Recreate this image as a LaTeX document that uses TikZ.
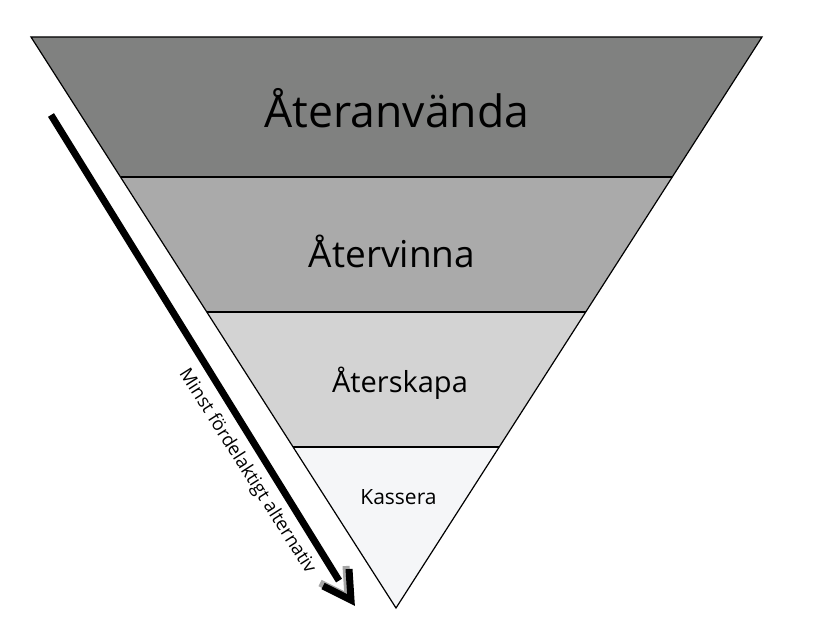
\documentclass[tikz,border=0pt]{standalone}
\usepackage{fontspec}
\setmainfont{Open Sans}
\usetikzlibrary{calc}
\begin{document}
\begin{tikzpicture}[x=1pt,y=-1pt,
  band/.style={draw=black,line width=1.2pt},
  lbl/.style={anchor=base,inner sep=0pt,text=black},
  shaft/.style={line width=7pt},
]
\useasboundingbox[fill=white] (0,0) rectangle (822,634);
\definecolor{b1}{RGB}{128,129,128}
\definecolor{b2}{RGB}{170,170,170}
\definecolor{b3}{RGB}{211,211,211}
\definecolor{b4}{RGB}{245,246,248}
% corners
\coordinate (TL) at (31,37);
\coordinate (TR) at (762,37);
\coordinate (B) at (396,608);
\coordinate (L1) at (120.5,177); \coordinate (R1) at (672,177);
\coordinate (L2) at (207,312);   \coordinate (R2) at (585.5,312);
\coordinate (L3) at (293,447);   \coordinate (R3) at (499,447);
\fill[b1] (TL) -- (TR) -- (R1) -- (L1) -- cycle;
\fill[b2] (L1) -- (R1) -- (R2) -- (L2) -- cycle;
\fill[b3] (L2) -- (R2) -- (R3) -- (L3) -- cycle;
\fill[b4] (L3) -- (R3) -- (B) -- cycle;
\draw[line width=1.5pt] (L1) -- (R1);
\draw[line width=1.5pt] (L2) -- (R2);
\draw[line width=1.5pt] (L3) -- (R3);
\draw[band,line join=miter] (TL) -- (TR) -- (B) -- cycle;
% labels
\node[lbl,font=\fontsize{44.5}{50}\selectfont] (t1) at (397,127) {Återanvända};
\node[lbl,font=\fontsize{37}{42}\selectfont] (t2) at (392,267) {Återvinna};
\node[lbl,font=\fontsize{29}{34}\selectfont] (t3) at (400,392) {Återskapa};
\node[lbl,font=\fontsize{21}{25}\selectfont] (t4) at (398.5,504) {Kassera};
% arrow
\coordinate (AS) at (51,115);
\coordinate (AT) at (351,600);
\coordinate (AL) at (323,586);
\coordinate (AR) at (349,569);
\draw[shaft] (AS) -- ($(AT)!0.04!(AS)$);
\draw[line width=7pt,color=gray!70,line join=miter] ([shift={(-3,-3)}]AL) -- ([shift={(-3,-3)}]AT) -- ([shift={(-3,-3)}]AR);
\draw[line width=7pt,line join=miter] (AL) -- (AT) -- (AR);
\node[font=\fontsize{18.5}{22}\selectfont,rotate=-57.5,inner sep=0pt] (arr) at (247,471.5) {Minst fördelaktigt alternativ};
\end{tikzpicture}
\end{document}
